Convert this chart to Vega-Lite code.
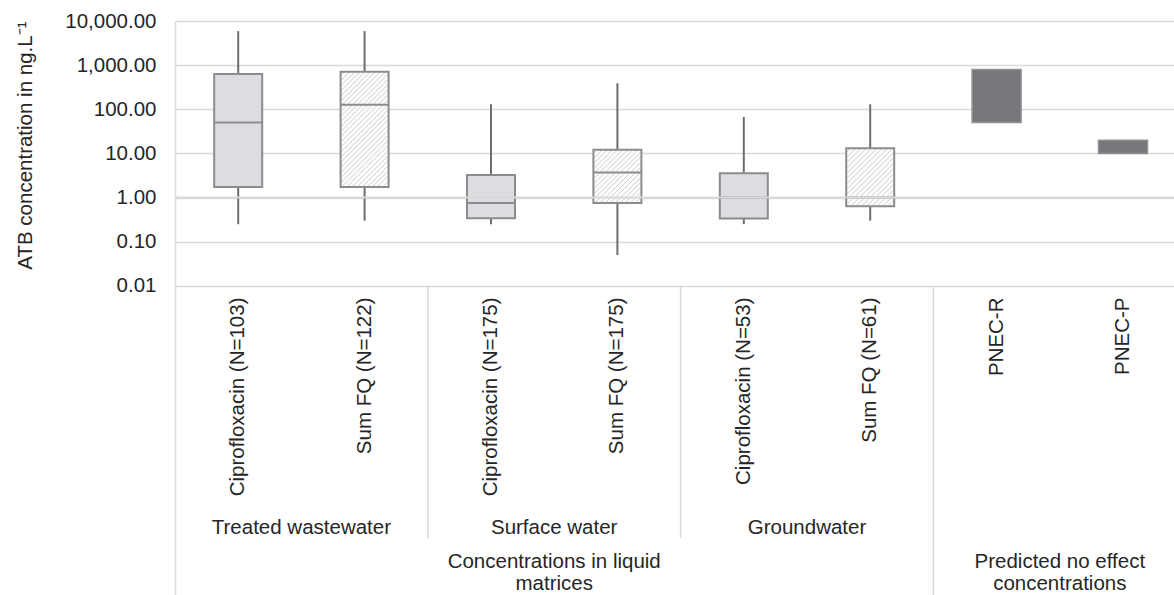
{
  "$schema": "https://vega.github.io/schema/vega-lite/v6.json",
  "width": 999,
  "height": 574,
  "autosize": {"type": "none"},
  "padding": {"left": 175, "top": 21, "right": 0, "bottom": 0},
  "background": "white",
  "config": {
    "view": {"stroke": null},
    "font": "Liberation Sans",
    "axis": {"labelFont": "Liberation Sans", "titleFont": "Liberation Sans"}
  },
  "datasets": {
    "boxes": [
      {"cat": "Ciprofloxacin (N=103)", "kind": "cipro", "min": 0.25, "q1": 1.75, "median": 50, "q3": 630, "max": 5900},
      {"cat": "Sum FQ (N=122)", "kind": "sum", "min": 0.3, "q1": 1.75, "median": 127, "q3": 710, "max": 5900},
      {"cat": "Ciprofloxacin (N=175)", "kind": "cipro", "min": 0.25, "q1": 0.34, "median": 0.76, "q3": 3.25, "max": 130},
      {"cat": "Sum FQ (N=175)", "kind": "sum", "min": 0.05, "q1": 0.755, "median": 3.7, "q3": 12.2, "max": 390},
      {"cat": "Ciprofloxacin (N=53)", "kind": "cipro", "min": 0.25, "q1": 0.335, "median": 1.0, "q3": 3.55, "max": 67},
      {"cat": "Sum FQ (N=61)", "kind": "sum", "min": 0.3, "q1": 0.635, "median": 1.0, "q3": 13.2, "max": 130},
      {"cat": "PNEC-R", "kind": "pnec", "min": null, "q1": 50, "median": null, "q3": 800, "max": null},
      {"cat": "PNEC-P", "kind": "pnec", "min": null, "q1": 10, "median": null, "q3": 20, "max": null}
    ],
    "seps": [
      {"cat": "Ciprofloxacin (N=175)", "level": "inner"},
      {"cat": "Ciprofloxacin (N=53)", "level": "inner"},
      {"cat": "PNEC-R", "level": "outer"}
    ],
    "groups": [
      {"cat": "Sum FQ (N=122)", "label": "Treated wastewater", "level": 1},
      {"cat": "Sum FQ (N=175)", "label": "Surface water", "level": 1},
      {"cat": "Sum FQ (N=61)", "label": "Groundwater", "level": 1},
      {"cat": "Sum FQ (N=175)", "label": "Concentrations in liquid\nmatrices", "level": 2},
      {"cat": "PNEC-P", "label": "Predicted no effect\nconcentrations", "level": 2}
    ]
  },
  "layer": [
    {
      "data": {"name": "boxes"},
      "transform": [{"filter": "datum.max != null"}],
      "mark": {"type": "rule", "color": "#6d6e71", "strokeWidth": 2},
      "encoding": {
        "x": {"field": "cat", "type": "nominal", "sort": null,
          "scale": {"type": "band", "domain": ["Ciprofloxacin (N=103)", "Sum FQ (N=122)", "Ciprofloxacin (N=175)", "Sum FQ (N=175)", "Ciprofloxacin (N=53)", "Sum FQ (N=61)", "PNEC-R", "PNEC-P"], "range": [0, 1011.2], "paddingInner": 0, "paddingOuter": 0},
          "axis": {"orient": "bottom", "offset": -309, "title": null, "domain": false, "ticks": false, "grid": false, "labelAngle": -90, "labelAlign": "right", "labelBaseline": "middle", "labelFontSize": 20.5, "labelColor": "#262626", "labelPadding": 11, "labelLimit": 0, "labelOverlap": false}},
        "y": {"field": "min", "type": "quantitative",
          "scale": {"type": "log", "domain": [1e-9, 10000], "nice": false, "zero": false},
          "axis": {"values": [0.01, 0.1, 1, 10, 100, 1000, 10000], "format": ",.2f", "grid": true, "gridColor": "#d9d9d9", "gridWidth": 1.5, "domain": true, "domainColor": "#d9d9d9", "domainWidth": 1.5, "ticks": false, "labelFontSize": 20.5, "labelColor": "#262626", "labelPadding": 19, "labelOverlap": false, "title": "ATB concentration in ng.L⁻¹", "titleFontSize": 20.5, "titleFontWeight": "normal", "titleColor": "#262626", "titlePadding": 29, "titleAnchor": "end"}},
        "y2": {"field": "max"}
      }
    },
    {
      "data": {"name": "boxes"},
      "transform": [{"filter": "datum.kind === 'cipro'"}],
      "mark": {"type": "bar", "size": 48, "fill": "#dcdde0", "stroke": "#8c8c8e", "strokeWidth": 2},
      "encoding": {
        "x": {"field": "cat", "type": "nominal", "sort": null,
          "scale": {"type": "band", "domain": ["Ciprofloxacin (N=103)", "Sum FQ (N=122)", "Ciprofloxacin (N=175)", "Sum FQ (N=175)", "Ciprofloxacin (N=53)", "Sum FQ (N=61)", "PNEC-R", "PNEC-P"], "range": [0, 1011.2], "paddingInner": 0, "paddingOuter": 0}},
        "y": {"field": "q1", "type": "quantitative", "scale": {"type": "log", "domain": [1e-9, 10000], "nice": false, "zero": false}},
        "y2": {"field": "q3"}
      }
    },
    {
      "data": {"name": "boxes"},
      "transform": [{"filter": "datum.kind === 'sum'"}],
      "mark": {"type": "bar", "size": 48, "stroke": "#8c8c8e", "strokeWidth": 2},
      "encoding": {
        "x": {"field": "cat", "type": "nominal", "sort": null,
          "scale": {"type": "band", "domain": ["Ciprofloxacin (N=103)", "Sum FQ (N=122)", "Ciprofloxacin (N=175)", "Sum FQ (N=175)", "Ciprofloxacin (N=53)", "Sum FQ (N=61)", "PNEC-R", "PNEC-P"], "range": [0, 1011.2], "paddingInner": 0, "paddingOuter": 0}},
        "y": {"field": "q1", "type": "quantitative", "scale": {"type": "log", "domain": [1e-9, 10000], "nice": false, "zero": false}},
        "y2": {"field": "q3"},
        "fill": {
          "condition": [
            {"test": "datum.cat === 'Sum FQ (N=122)'", "value": {"gradient": "linear", "x1": 0, "y1": 0, "x2": 0.503, "y2": 1.207, "stops": [
              {"offset": 0, "color": "#fcfcfc"}, {"offset": 0.01875, "color": "#fcfcfc"}, {"offset": 0.025, "color": "#d0d0d0"},
              {"offset": 0.03125, "color": "#fcfcfc"}, {"offset": 0.05, "color": "#fcfcfc"}, {"offset": 0.05625, "color": "#d0d0d0"},
              {"offset": 0.0625, "color": "#fcfcfc"}, {"offset": 0.08125, "color": "#fcfcfc"}, {"offset": 0.0875, "color": "#d0d0d0"},
              {"offset": 0.09375, "color": "#fcfcfc"}, {"offset": 0.1125, "color": "#fcfcfc"}, {"offset": 0.11875, "color": "#d0d0d0"},
              {"offset": 0.125, "color": "#fcfcfc"}, {"offset": 0.14375, "color": "#fcfcfc"}, {"offset": 0.15, "color": "#d0d0d0"},
              {"offset": 0.15625, "color": "#fcfcfc"}, {"offset": 0.175, "color": "#fcfcfc"}, {"offset": 0.18125, "color": "#d0d0d0"},
              {"offset": 0.1875, "color": "#fcfcfc"}, {"offset": 0.20625, "color": "#fcfcfc"}, {"offset": 0.2125, "color": "#d0d0d0"},
              {"offset": 0.21875, "color": "#fcfcfc"}, {"offset": 0.2375, "color": "#fcfcfc"}, {"offset": 0.24375, "color": "#d0d0d0"},
              {"offset": 0.25, "color": "#fcfcfc"}, {"offset": 0.26875, "color": "#fcfcfc"}, {"offset": 0.275, "color": "#d0d0d0"},
              {"offset": 0.28125, "color": "#fcfcfc"}, {"offset": 0.3, "color": "#fcfcfc"}, {"offset": 0.30625, "color": "#d0d0d0"},
              {"offset": 0.3125, "color": "#fcfcfc"}, {"offset": 0.33125, "color": "#fcfcfc"}, {"offset": 0.3375, "color": "#d0d0d0"},
              {"offset": 0.34375, "color": "#fcfcfc"}, {"offset": 0.3625, "color": "#fcfcfc"}, {"offset": 0.36875, "color": "#d0d0d0"},
              {"offset": 0.375, "color": "#fcfcfc"}, {"offset": 0.39375, "color": "#fcfcfc"}, {"offset": 0.4, "color": "#d0d0d0"},
              {"offset": 0.40625, "color": "#fcfcfc"}, {"offset": 0.425, "color": "#fcfcfc"}, {"offset": 0.43125, "color": "#d0d0d0"},
              {"offset": 0.4375, "color": "#fcfcfc"}, {"offset": 0.45625, "color": "#fcfcfc"}, {"offset": 0.4625, "color": "#d0d0d0"},
              {"offset": 0.46875, "color": "#fcfcfc"}, {"offset": 0.4875, "color": "#fcfcfc"}, {"offset": 0.49375, "color": "#d0d0d0"},
              {"offset": 0.5, "color": "#fcfcfc"}, {"offset": 0.51875, "color": "#fcfcfc"}, {"offset": 0.525, "color": "#d0d0d0"},
              {"offset": 0.53125, "color": "#fcfcfc"}, {"offset": 0.55, "color": "#fcfcfc"}, {"offset": 0.55625, "color": "#d0d0d0"},
              {"offset": 0.5625, "color": "#fcfcfc"}, {"offset": 0.58125, "color": "#fcfcfc"}, {"offset": 0.5875, "color": "#d0d0d0"},
              {"offset": 0.59375, "color": "#fcfcfc"}, {"offset": 0.6125, "color": "#fcfcfc"}, {"offset": 0.61875, "color": "#d0d0d0"},
              {"offset": 0.625, "color": "#fcfcfc"}, {"offset": 0.64375, "color": "#fcfcfc"}, {"offset": 0.65, "color": "#d0d0d0"},
              {"offset": 0.65625, "color": "#fcfcfc"}, {"offset": 0.675, "color": "#fcfcfc"}, {"offset": 0.68125, "color": "#d0d0d0"},
              {"offset": 0.6875, "color": "#fcfcfc"}, {"offset": 0.70625, "color": "#fcfcfc"}, {"offset": 0.7125, "color": "#d0d0d0"},
              {"offset": 0.71875, "color": "#fcfcfc"}, {"offset": 0.7375, "color": "#fcfcfc"}, {"offset": 0.74375, "color": "#d0d0d0"},
              {"offset": 0.75, "color": "#fcfcfc"}, {"offset": 0.76875, "color": "#fcfcfc"}, {"offset": 0.775, "color": "#d0d0d0"},
              {"offset": 0.78125, "color": "#fcfcfc"}, {"offset": 0.8, "color": "#fcfcfc"}, {"offset": 0.80625, "color": "#d0d0d0"},
              {"offset": 0.8125, "color": "#fcfcfc"}, {"offset": 0.83125, "color": "#fcfcfc"}, {"offset": 0.8375, "color": "#d0d0d0"},
              {"offset": 0.84375, "color": "#fcfcfc"}, {"offset": 0.8625, "color": "#fcfcfc"}, {"offset": 0.86875, "color": "#d0d0d0"},
              {"offset": 0.875, "color": "#fcfcfc"}, {"offset": 0.89375, "color": "#fcfcfc"}, {"offset": 0.9, "color": "#d0d0d0"},
              {"offset": 0.90625, "color": "#fcfcfc"}, {"offset": 0.925, "color": "#fcfcfc"}, {"offset": 0.93125, "color": "#d0d0d0"},
              {"offset": 0.9375, "color": "#fcfcfc"}, {"offset": 0.95625, "color": "#fcfcfc"}, {"offset": 0.9625, "color": "#d0d0d0"},
              {"offset": 0.96875, "color": "#fcfcfc"}, {"offset": 0.9875, "color": "#fcfcfc"}, {"offset": 0.99375, "color": "#d0d0d0"},
              {"offset": 1, "color": "#fcfcfc"}
            ]}},
            {"test": "datum.cat === 'Sum FQ (N=175)'", "value": {"gradient": "linear", "x1": 0, "y1": 0, "x2": 0.944, "y2": 1.05, "stops": [
              {"offset": 0, "color": "#fcfcfc"}, {"offset": 0.03, "color": "#fcfcfc"}, {"offset": 0.04, "color": "#d0d0d0"},
              {"offset": 0.05, "color": "#fcfcfc"}, {"offset": 0.08, "color": "#fcfcfc"}, {"offset": 0.09, "color": "#d0d0d0"},
              {"offset": 0.1, "color": "#fcfcfc"}, {"offset": 0.13, "color": "#fcfcfc"}, {"offset": 0.14, "color": "#d0d0d0"},
              {"offset": 0.15, "color": "#fcfcfc"}, {"offset": 0.18, "color": "#fcfcfc"}, {"offset": 0.19, "color": "#d0d0d0"},
              {"offset": 0.2, "color": "#fcfcfc"}, {"offset": 0.23, "color": "#fcfcfc"}, {"offset": 0.24, "color": "#d0d0d0"},
              {"offset": 0.25, "color": "#fcfcfc"}, {"offset": 0.28, "color": "#fcfcfc"}, {"offset": 0.29, "color": "#d0d0d0"},
              {"offset": 0.3, "color": "#fcfcfc"}, {"offset": 0.33, "color": "#fcfcfc"}, {"offset": 0.34, "color": "#d0d0d0"},
              {"offset": 0.35, "color": "#fcfcfc"}, {"offset": 0.38, "color": "#fcfcfc"}, {"offset": 0.39, "color": "#d0d0d0"},
              {"offset": 0.4, "color": "#fcfcfc"}, {"offset": 0.43, "color": "#fcfcfc"}, {"offset": 0.44, "color": "#d0d0d0"},
              {"offset": 0.45, "color": "#fcfcfc"}, {"offset": 0.48, "color": "#fcfcfc"}, {"offset": 0.49, "color": "#d0d0d0"},
              {"offset": 0.5, "color": "#fcfcfc"}, {"offset": 0.53, "color": "#fcfcfc"}, {"offset": 0.54, "color": "#d0d0d0"},
              {"offset": 0.55, "color": "#fcfcfc"}, {"offset": 0.58, "color": "#fcfcfc"}, {"offset": 0.59, "color": "#d0d0d0"},
              {"offset": 0.6, "color": "#fcfcfc"}, {"offset": 0.63, "color": "#fcfcfc"}, {"offset": 0.64, "color": "#d0d0d0"},
              {"offset": 0.65, "color": "#fcfcfc"}, {"offset": 0.68, "color": "#fcfcfc"}, {"offset": 0.69, "color": "#d0d0d0"},
              {"offset": 0.7, "color": "#fcfcfc"}, {"offset": 0.73, "color": "#fcfcfc"}, {"offset": 0.74, "color": "#d0d0d0"},
              {"offset": 0.75, "color": "#fcfcfc"}, {"offset": 0.78, "color": "#fcfcfc"}, {"offset": 0.79, "color": "#d0d0d0"},
              {"offset": 0.8, "color": "#fcfcfc"}, {"offset": 0.83, "color": "#fcfcfc"}, {"offset": 0.84, "color": "#d0d0d0"},
              {"offset": 0.85, "color": "#fcfcfc"}, {"offset": 0.88, "color": "#fcfcfc"}, {"offset": 0.89, "color": "#d0d0d0"},
              {"offset": 0.9, "color": "#fcfcfc"}, {"offset": 0.93, "color": "#fcfcfc"}, {"offset": 0.94, "color": "#d0d0d0"},
              {"offset": 0.95, "color": "#fcfcfc"}, {"offset": 0.98, "color": "#fcfcfc"}, {"offset": 0.99, "color": "#d0d0d0"},
              {"offset": 1, "color": "#fcfcfc"}
            ]}}
          ],
          "value": {"gradient": "linear", "x1": 0, "y1": 0, "x2": 0.896, "y2": 1.086, "stops": [
              {"offset": 0, "color": "#fcfcfc"}, {"offset": 0.03, "color": "#fcfcfc"}, {"offset": 0.04, "color": "#d0d0d0"},
              {"offset": 0.05, "color": "#fcfcfc"}, {"offset": 0.08, "color": "#fcfcfc"}, {"offset": 0.09, "color": "#d0d0d0"},
              {"offset": 0.1, "color": "#fcfcfc"}, {"offset": 0.13, "color": "#fcfcfc"}, {"offset": 0.14, "color": "#d0d0d0"},
              {"offset": 0.15, "color": "#fcfcfc"}, {"offset": 0.18, "color": "#fcfcfc"}, {"offset": 0.19, "color": "#d0d0d0"},
              {"offset": 0.2, "color": "#fcfcfc"}, {"offset": 0.23, "color": "#fcfcfc"}, {"offset": 0.24, "color": "#d0d0d0"},
              {"offset": 0.25, "color": "#fcfcfc"}, {"offset": 0.28, "color": "#fcfcfc"}, {"offset": 0.29, "color": "#d0d0d0"},
              {"offset": 0.3, "color": "#fcfcfc"}, {"offset": 0.33, "color": "#fcfcfc"}, {"offset": 0.34, "color": "#d0d0d0"},
              {"offset": 0.35, "color": "#fcfcfc"}, {"offset": 0.38, "color": "#fcfcfc"}, {"offset": 0.39, "color": "#d0d0d0"},
              {"offset": 0.4, "color": "#fcfcfc"}, {"offset": 0.43, "color": "#fcfcfc"}, {"offset": 0.44, "color": "#d0d0d0"},
              {"offset": 0.45, "color": "#fcfcfc"}, {"offset": 0.48, "color": "#fcfcfc"}, {"offset": 0.49, "color": "#d0d0d0"},
              {"offset": 0.5, "color": "#fcfcfc"}, {"offset": 0.53, "color": "#fcfcfc"}, {"offset": 0.54, "color": "#d0d0d0"},
              {"offset": 0.55, "color": "#fcfcfc"}, {"offset": 0.58, "color": "#fcfcfc"}, {"offset": 0.59, "color": "#d0d0d0"},
              {"offset": 0.6, "color": "#fcfcfc"}, {"offset": 0.63, "color": "#fcfcfc"}, {"offset": 0.64, "color": "#d0d0d0"},
              {"offset": 0.65, "color": "#fcfcfc"}, {"offset": 0.68, "color": "#fcfcfc"}, {"offset": 0.69, "color": "#d0d0d0"},
              {"offset": 0.7, "color": "#fcfcfc"}, {"offset": 0.73, "color": "#fcfcfc"}, {"offset": 0.74, "color": "#d0d0d0"},
              {"offset": 0.75, "color": "#fcfcfc"}, {"offset": 0.78, "color": "#fcfcfc"}, {"offset": 0.79, "color": "#d0d0d0"},
              {"offset": 0.8, "color": "#fcfcfc"}, {"offset": 0.83, "color": "#fcfcfc"}, {"offset": 0.84, "color": "#d0d0d0"},
              {"offset": 0.85, "color": "#fcfcfc"}, {"offset": 0.88, "color": "#fcfcfc"}, {"offset": 0.89, "color": "#d0d0d0"},
              {"offset": 0.9, "color": "#fcfcfc"}, {"offset": 0.93, "color": "#fcfcfc"}, {"offset": 0.94, "color": "#d0d0d0"},
              {"offset": 0.95, "color": "#fcfcfc"}, {"offset": 0.98, "color": "#fcfcfc"}, {"offset": 0.99, "color": "#d0d0d0"},
              {"offset": 1, "color": "#fcfcfc"}
          ]}
        }
      }
    },
    {
      "data": {"name": "boxes"},
      "transform": [{"filter": "datum.kind === 'pnec'"}],
      "mark": {"type": "bar", "size": 49, "fill": "#77787b", "stroke": "#909193", "strokeWidth": 1.5},
      "encoding": {
        "x": {"field": "cat", "type": "nominal", "sort": null,
          "scale": {"type": "band", "domain": ["Ciprofloxacin (N=103)", "Sum FQ (N=122)", "Ciprofloxacin (N=175)", "Sum FQ (N=175)", "Ciprofloxacin (N=53)", "Sum FQ (N=61)", "PNEC-R", "PNEC-P"], "range": [0, 1011.2], "paddingInner": 0, "paddingOuter": 0}},
        "y": {"field": "q1", "type": "quantitative", "scale": {"type": "log", "domain": [1e-9, 10000], "nice": false, "zero": false}},
        "y2": {"field": "q3"}
      }
    },
    {
      "data": {"name": "boxes"},
      "transform": [{"filter": "datum.median != null"}],
      "mark": {"type": "tick", "size": 48, "thickness": 2, "color": "#8c8c8e", "opacity": 1},
      "encoding": {
        "x": {"field": "cat", "type": "nominal", "sort": null,
          "scale": {"type": "band", "domain": ["Ciprofloxacin (N=103)", "Sum FQ (N=122)", "Ciprofloxacin (N=175)", "Sum FQ (N=175)", "Ciprofloxacin (N=53)", "Sum FQ (N=61)", "PNEC-R", "PNEC-P"], "range": [0, 1011.2], "paddingInner": 0, "paddingOuter": 0}},
        "y": {"field": "median", "type": "quantitative", "scale": {"type": "log", "domain": [1e-9, 10000], "nice": false, "zero": false}}
      }
    },
    {
      "data": {"values": [{}]},
      "mark": {"type": "rule", "color": "#d9d9d9", "strokeWidth": 2},
      "encoding": {
        "y": {"datum": 1, "type": "quantitative", "scale": {"type": "log", "domain": [1e-9, 10000], "nice": false, "zero": false}}
      }
    },
    {
      "data": {"name": "seps"},
      "transform": [{"filter": "datum.level === 'inner'"}],
      "mark": {"type": "rule", "color": "#d9d9d9", "strokeWidth": 1.5},
      "encoding": {
        "x": {"field": "cat", "type": "nominal", "sort": null, "bandPosition": 0,
          "scale": {"type": "band", "domain": ["Ciprofloxacin (N=103)", "Sum FQ (N=122)", "Ciprofloxacin (N=175)", "Sum FQ (N=175)", "Ciprofloxacin (N=53)", "Sum FQ (N=61)", "PNEC-R", "PNEC-P"], "range": [0, 1011.2], "paddingInner": 0, "paddingOuter": 0}},
        "y": {"datum": 0.01, "type": "quantitative", "scale": {"type": "log", "domain": [1e-9, 10000], "nice": false, "zero": false}},
        "y2": {"datum": 1.95e-8}
      }
    },
    {
      "data": {"name": "seps"},
      "transform": [{"filter": "datum.level === 'outer'"}],
      "mark": {"type": "rule", "color": "#d9d9d9", "strokeWidth": 1.5},
      "encoding": {
        "x": {"field": "cat", "type": "nominal", "sort": null, "bandPosition": 0,
          "scale": {"type": "band", "domain": ["Ciprofloxacin (N=103)", "Sum FQ (N=122)", "Ciprofloxacin (N=175)", "Sum FQ (N=175)", "Ciprofloxacin (N=53)", "Sum FQ (N=61)", "PNEC-R", "PNEC-P"], "range": [0, 1011.2], "paddingInner": 0, "paddingOuter": 0}},
        "y": {"datum": 0.01, "type": "quantitative", "scale": {"type": "log", "domain": [1e-9, 10000], "nice": false, "zero": false}},
        "y2": {"datum": 1e-9}
      }
    },
    {
      "data": {"name": "groups"},
      "transform": [{"filter": "datum.level === 1"}],
      "mark": {"type": "text", "font": "Liberation Sans", "fontSize": 20.5, "color": "#262626", "align": "center", "baseline": "alphabetic"},
      "encoding": {
        "x": {"field": "cat", "type": "nominal", "sort": null, "bandPosition": 0,
          "scale": {"type": "band", "domain": ["Ciprofloxacin (N=103)", "Sum FQ (N=122)", "Ciprofloxacin (N=175)", "Sum FQ (N=175)", "Ciprofloxacin (N=53)", "Sum FQ (N=61)", "PNEC-R", "PNEC-P"], "range": [0, 1011.2], "paddingInner": 0, "paddingOuter": 0}},
        "y": {"datum": 2.37e-8, "type": "quantitative", "scale": {"type": "log", "domain": [1e-9, 10000], "nice": false, "zero": false}},
        "text": {"field": "label"}
      }
    },
    {
      "data": {"name": "groups"},
      "transform": [{"filter": "datum.level === 2"}],
      "mark": {"type": "text", "font": "Liberation Sans", "fontSize": 20.5, "color": "#262626", "align": "center", "baseline": "alphabetic", "lineBreak": "\n", "lineHeight": 22.5},
      "encoding": {
        "x": {"field": "cat", "type": "nominal", "sort": null, "bandPosition": 0,
          "scale": {"type": "band", "domain": ["Ciprofloxacin (N=103)", "Sum FQ (N=122)", "Ciprofloxacin (N=175)", "Sum FQ (N=175)", "Ciprofloxacin (N=53)", "Sum FQ (N=61)", "PNEC-R", "PNEC-P"], "range": [0, 1011.2], "paddingInner": 0, "paddingOuter": 0}},
        "y": {"datum": 4.1e-9, "type": "quantitative", "scale": {"type": "log", "domain": [1e-9, 10000], "nice": false, "zero": false}},
        "text": {"field": "label"}
      }
    }
  ]
}
